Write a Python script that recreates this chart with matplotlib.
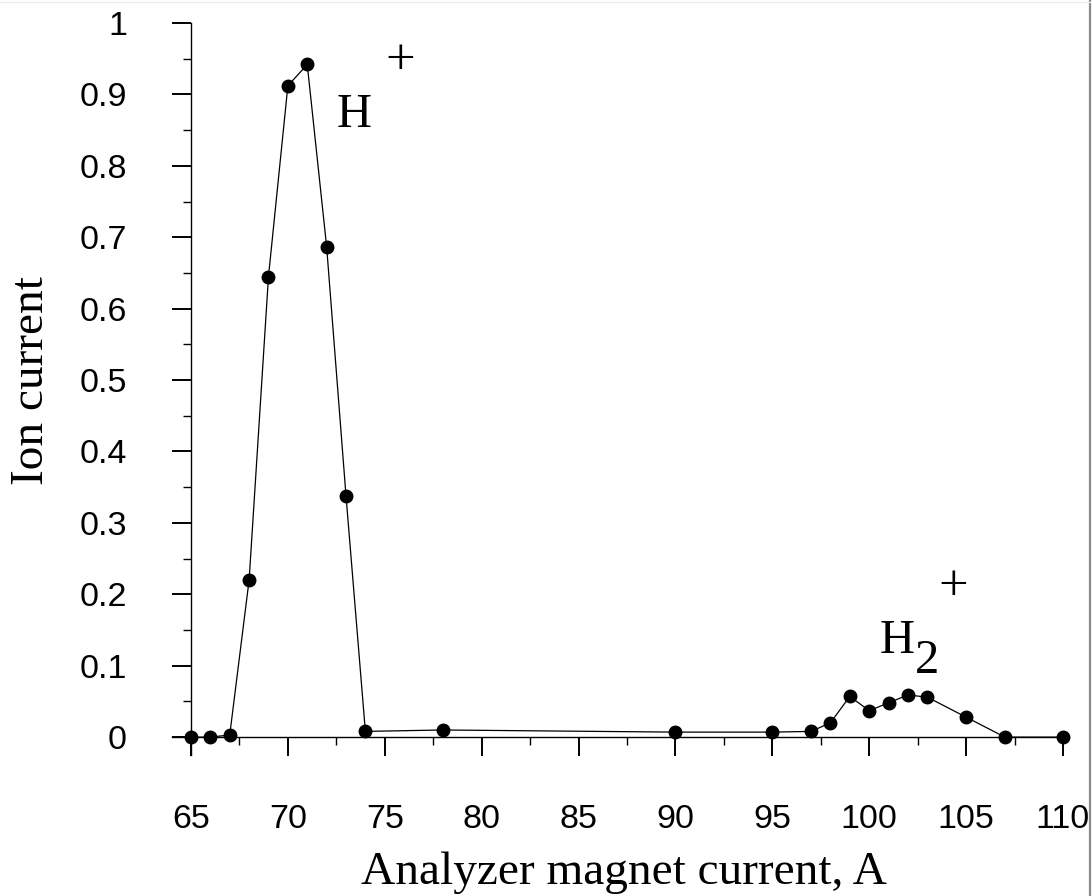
import matplotlib
matplotlib.use("Agg")
import matplotlib.pyplot as plt
from matplotlib.ticker import MultipleLocator
from matplotlib.lines import Line2D

magnet_current = [65, 66, 67, 68, 69, 70, 71, 72, 73, 74, 78, 90, 95, 97, 98, 99,
                  100, 101, 102, 103, 105, 107, 110]
ion_current = [0.0, 0.0, 0.003, 0.22, 0.645, 0.912, 0.942, 0.687, 0.338, 0.008,
               0.01, 0.007, 0.007, 0.008, 0.02, 0.057, 0.037, 0.048, 0.059, 0.056,
               0.028, 0.0, 0.0]
x_ticks = [65, 70, 75, 80, 85, 90, 95, 100, 105, 110]
y_ticks = [0, 0.1, 0.2, 0.3, 0.4, 0.5, 0.6, 0.7, 0.8, 0.9, 1]
y_tick_labels = ["0", "0.1", "0.2", "0.3", "0.4", "0.5", "0.6", "0.7", "0.8", "0.9", "1"]

fig = plt.figure(figsize=(10.92, 8.96), dpi=100)
ax = fig.add_axes([0.1575, 0.1574, 0.8159, 0.8169])
ax.plot(magnet_current, ion_current, color="black", lw=0.9, marker="o",
        markersize=9, markerfacecolor="black", markeredgecolor="black", clip_on=False)

ax.set_xlim(64.02, 110)
ax.set_ylim(-0.025, 1)
for s in ["top", "right"]:
    ax.spines[s].set_visible(False)
ax.spines["left"].set_position(("data", 65))
ax.spines["bottom"].set_position(("data", 0))
ax.spines["left"].set_linewidth(1.0)
ax.spines["bottom"].set_linewidth(1.0)

ax.set_xticks(x_ticks)
ax.set_yticks(y_ticks)
ax.set_yticklabels(y_tick_labels)
ax.xaxis.set_minor_locator(MultipleLocator(2.5))
ax.yaxis.set_minor_locator(MultipleLocator(0.05))
ax.tick_params(axis="both", which="major", direction="out", length=14, width=1.4,
               labelsize=24.5)
ax.tick_params(axis="both", which="minor", direction="out", length=5.5, width=1.0)
ax.tick_params(axis="x", which="major", pad=34)
ax.tick_params(axis="y", which="major", pad=32)
for lab in ax.get_xticklabels() + ax.get_yticklabels():
    lab.set_fontfamily("Liberation Sans")

ax.set_xlabel("Analyzer magnet current, A", family="Liberation Serif", fontsize=34)
ax.set_ylabel("Ion current", family="Liberation Serif", fontsize=34)
ax.xaxis.set_label_coords(0.507, -0.1325)
ax.yaxis.set_label_coords(-0.134, 0.512)

serif = "Liberation Serif"
ax.text(72.53, 0.854, "H", family=serif, fontsize=35, ha="left", va="baseline")
ax.text(75.78, 0.929, "+", family=serif, fontsize=38, ha="center", va="baseline")
ax.text(100.55, 0.1176, "H", family=serif, fontsize=35, ha="left", va="baseline")
ax.text(102.36, 0.0896, "2", family=serif, fontsize=35, ha="left", va="baseline")
ax.text(104.32, 0.192, "+", family=serif, fontsize=38, ha="center", va="baseline")

fig.add_artist(Line2D([0.9982, 0.9982], [0.0, 1.0], transform=fig.transFigure,
                      color="#8a8a8a", lw=1.6))
fig.add_artist(Line2D([0.0, 1.0], [0.998, 0.998], transform=fig.transFigure,
                      color="#ececec", lw=1.0))

fig.savefig("out.png", dpi=100)
